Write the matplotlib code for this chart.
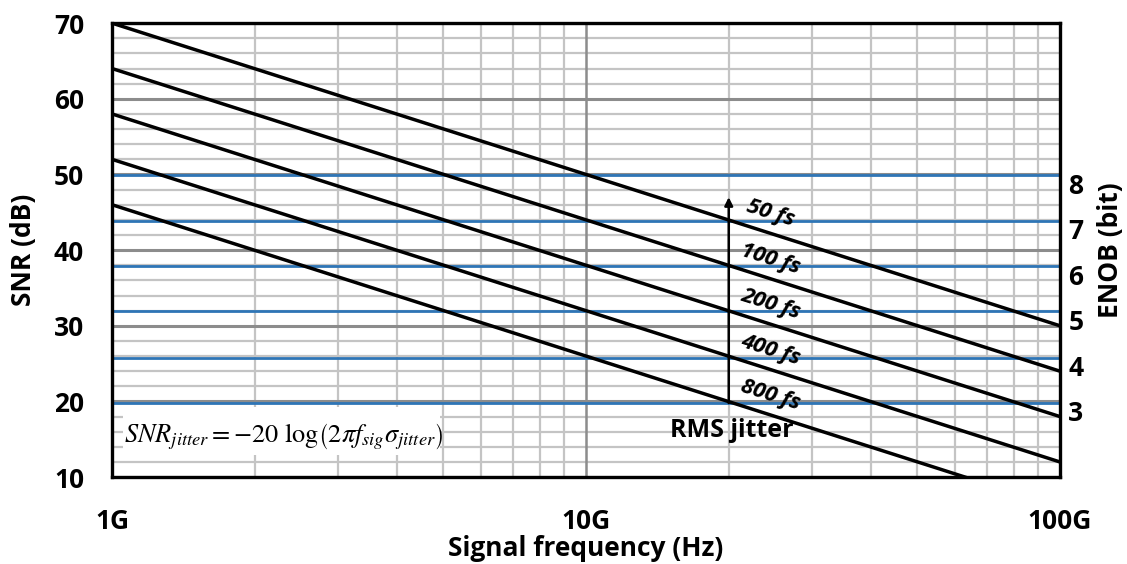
import matplotlib
matplotlib.use("Agg")
import matplotlib.pyplot as plt
import matplotlib.transforms as mtransforms
from matplotlib.patches import Rectangle
import numpy as np

plt.rcParams["font.family"] = ["Open Sans", "DejaVu Sans"]
plt.rcParams["mathtext.fontset"] = "stix"

# Jitter-limited SNR lines: SNR (dB) at 1 GHz and at 100 GHz
freq_ends = [1e9, 100e9]
jitter_labels = ["50 fs", "100 fs", "200 fs", "400 fs", "800 fs"]
snr_at_1g = [70, 64, 58, 52, 46]
snr_at_100g = [30, 24, 18, 12, 6]

# ENOB levels and the SNR each corresponds to
enob_bits = [3, 4, 5, 6, 7, 8]
enob_snr = [19.8, 25.8, 31.9, 37.9, 43.9, 49.9]

# RMS jitter arrow (frequency, SNR from/to)
arrow_freq = 20e9
arrow_snr = [19.8, 47.0]

x_ticks = [1e9, 10e9, 100e9]
x_tick_labels = ["1G", "10G", "100G"]
y_ticks = [10, 20, 30, 40, 50, 60, 70]

fig = plt.figure(figsize=(11.27, 5.64), dpi=100)
ax = fig.add_axes([0.0994, 0.154, 0.8412, 0.805])

ax.set_xscale("log")
ax.set_xlim(1e9, 100e9)
ax.set_ylim(10, 70)

# grid: minor every 2 dB and each frequency multiple, major per decade / 10 dB
for y in np.arange(10, 71, 2):
    if y % 10 == 0:
        continue
    ax.axhline(y, color="#c4c4c4", lw=1.6, zorder=1)
for y in y_ticks:
    ax.axhline(y, color="#8c8c8c", lw=2.2, zorder=1.2)
for dec in [1e9, 10e9]:
    for m in range(2, 10):
        ax.axvline(dec * m, color="#c4c4c4", lw=1.6, zorder=1)
ax.axvline(10e9, color="#8c8c8c", lw=1.8, zorder=1.2)

# ENOB reference lines
for s in enob_snr:
    ax.axhline(s, color="#2e75b6", lw=2.0, zorder=2)

# jitter lines
for a, b in zip(snr_at_1g, snr_at_100g):
    ax.plot(freq_ends, [a, b], color="black", lw=2.5, zorder=3)

# jitter labels, rotated along the lines
for i, lab in enumerate(jitter_labels):
    f_lab = 24.5e9
    snr_line = snr_at_1g[i] + (snr_at_100g[i] - snr_at_1g[i]) * np.log10(f_lab / 1e9) / 2
    ax.text(f_lab, snr_line + 2.6, lab, fontsize=16, fontweight="bold",
            fontstyle="italic", rotation=-17.5, rotation_mode="anchor",
            ha="center", va="center", zorder=5)

# arrow
ax.annotate("", xy=(arrow_freq, arrow_snr[1]), xytext=(arrow_freq, arrow_snr[0]),
            arrowprops=dict(arrowstyle="-|>", color="black", lw=1.8,
                            mutation_scale=12, shrinkA=0, shrinkB=0), zorder=4)
ax.text(20.3e9, 16.1, "RMS jitter", fontsize=18, fontweight="bold",
        ha="center", va="center", zorder=5)

# equation on a white panel
ax.add_patch(Rectangle((1.055e9, 12.9), 4.92e9 - 1.055e9, 19.3 - 12.9,
                       facecolor="white", edgecolor="none", zorder=5))
ax.text(2.30e9, 15.4,
        r"$SNR_{jitter} = -20\ \mathrm{log}\left(2\pi f_{sig}\sigma_{jitter}\right)$",
        fontsize=19, ha="center", va="center", zorder=6)

# axes styling
for side in ["left", "right", "top", "bottom"]:
    ax.spines[side].set_linewidth(2.4)
    ax.spines[side].set_zorder(7)

ax.set_xticks(x_ticks)
ax.set_xticklabels(x_tick_labels, fontsize=19, fontweight="bold")
ax.xaxis.set_minor_locator(matplotlib.ticker.NullLocator())
ax.tick_params(axis="x", length=0, pad=22)
ax.set_yticks(y_ticks)
ax.set_yticklabels([str(v) for v in y_ticks], fontsize=19, fontweight="bold")
ax.tick_params(axis="y", length=0, pad=20)
ax.set_xlabel("Signal frequency (Hz)", fontsize=19, fontweight="bold", labelpad=0)
ax.set_ylabel("SNR (dB)", fontsize=19, fontweight="bold", labelpad=12)

ax2 = ax.twinx()
ax2.set_ylim(10, 70)
ax2.set_yticks(enob_snr)
ax2.set_yticklabels([str(b) for b in enob_bits], fontsize=19, fontweight="bold")
ax2.tick_params(axis="y", length=0, pad=6)
offset = mtransforms.ScaledTranslation(0, -8 / 100, fig.dpi_scale_trans)
for lbl in ax2.get_yticklabels():
    lbl.set_transform(lbl.get_transform() + offset)
ax2.set_ylabel("ENOB (bit)", fontsize=19, fontweight="bold", labelpad=10)
for side in ["left", "right", "top", "bottom"]:
    ax2.spines[side].set_visible(False)

fig.savefig("out.png", dpi=100, facecolor="white")
